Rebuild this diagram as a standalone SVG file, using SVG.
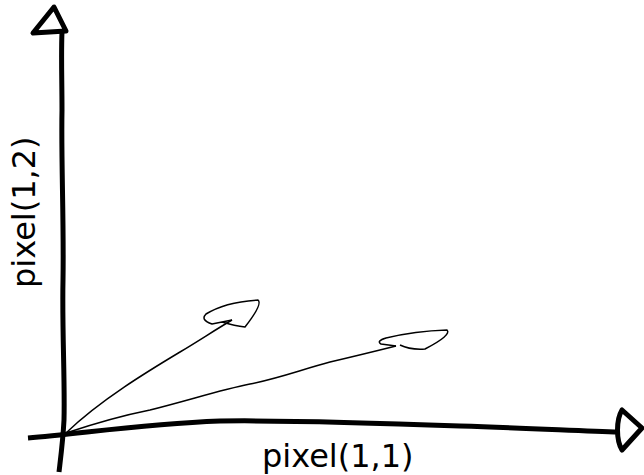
<svg xmlns="http://www.w3.org/2000/svg" width="644" height="475" viewBox="0 0 644 475">
<style>
.axis{fill:none;stroke:#000;stroke-width:5;stroke-linecap:butt;stroke-linejoin:round}
.vec{fill:none;stroke:#000;stroke-width:1.5;stroke-linejoin:round}
.lbl{font-family:"DejaVu Sans",sans-serif;font-size:32px;fill:#000}
</style>
<rect width="644" height="475" fill="#fff"/>
<g id="connectors">
<path class="axis" d="M59,472 C61,455 63,440 64,420 C65,380 62,330 63,280 C64,220 61,160 62,110 C62,80 61,55 62,32"/>
<path class="axis" d="M54,7 L33,33 L66,31 Z"/>
<path class="axis" d="M28,438 C80,434 140,424 220,421 C300,420 380,423 460,426 C530,428 580,431 619,432"/>
<path class="axis" d="M622,410 C616,420 616,440 622,450 L642,428 Z"/>
<path class="vec" d="M66,433 C100,400 150,370 180,352 C200,340 215,330 232,320"/>
<path class="vec" d="M232,320 L212,324 Q200,320 206,314 Q225,302 258,300 Q263,304 245,327 Q235,326 222,322"/>
<path class="vec" d="M66,433 C90,425 120,416 150,410 C190,400 220,390 250,384 C280,378 300,370 330,362 C360,355 380,350 396,346"/>
<path class="vec" d="M396,346 L381,344 Q376,341 386,338 Q415,331 447,330 Q452,335 425,349 Q410,350 400,345"/>
</g>
<g id="label-x"><text class="lbl" x="262" y="467">pixel(1,1)</text></g>
<g id="label-y"><text class="lbl" transform="translate(35,288) rotate(-90)">pixel(1,2)</text></g>
</svg>
